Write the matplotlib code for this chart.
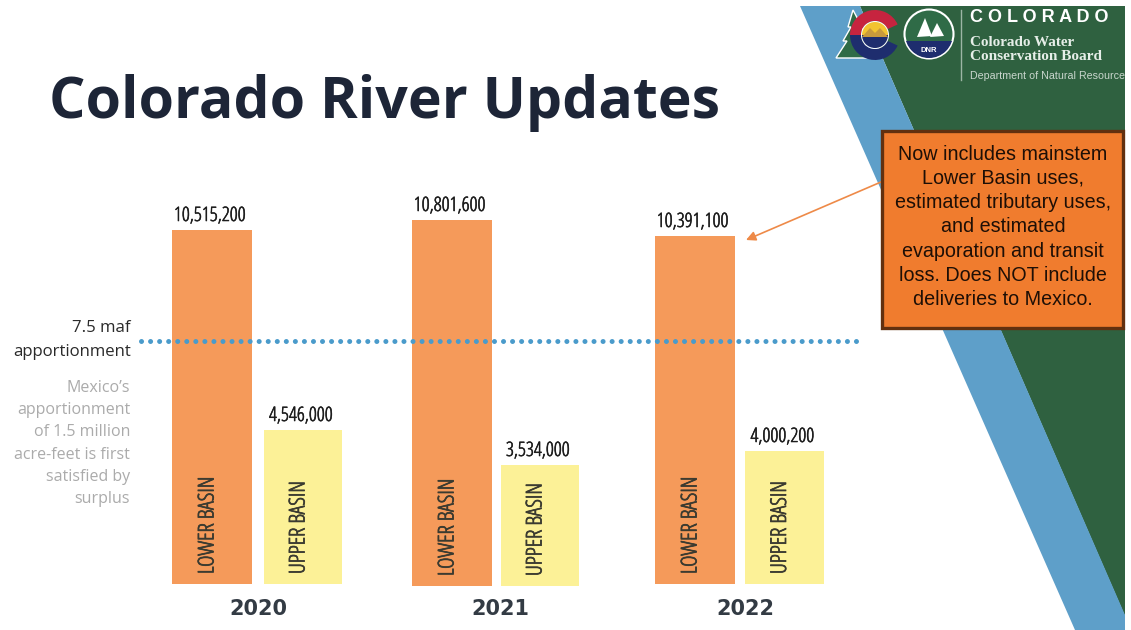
import matplotlib
matplotlib.use("Agg")
import matplotlib.pyplot as plt
import matplotlib.patheffects as pe
from matplotlib.patches import Polygon, Rectangle, Circle, Wedge

W, H = 1131, 630

# ---- data ----
years = ["2020", "2021", "2022"]
lower_basin = [10515200, 10801600, 10391100]
upper_basin = [4546000, 3534000, 4000200]
title = "Colorado River Updates"
apportion_lines = ["7.5 maf", "apportionment"]
mexico_lines = ["Mexico\u2019s", "apportionment", "of 1.5 million", "acre-feet is first", "satisfied by", "surplus"]
note = ("Now includes mainstem\nLower Basin uses,\nestimated tributary uses,\nand estimated\n"
        "evaporation and transit\nloss. Does NOT include\ndeliveries to Mexico.")

# ---- layout (pixels) ----
lower_x = [(172, 252), (412, 492), (655, 735)]
upper_x = [(264, 342), (501, 579), (745, 824)]
base_px = [584, 586, 584]
lower_top_px = [230, 220, 236]
upper_top_px = [430, 465, 451]
year_x = [258, 500, 745]
PX_PER_AF = 354 / 10515200

SANS = ["Liberation Sans", "DejaVu Sans"]
TITLE = ["Open Sans", "Noto Sans", "DejaVu Sans"]
COND = dict(family=["Open Sans"], fontstretch="condensed")


def heavy(color, width=0.55):
    return [pe.withStroke(linewidth=width, foreground=color)]


fig = plt.figure(figsize=(W / 100, H / 100), dpi=100, facecolor="white")
bg = fig.add_axes([0, 0, 1, 1])
bg.set_xlim(0, W); bg.set_ylim(H, 0); bg.axis("off"); bg.set_zorder(0)

# ---- background bands ----
bg.add_patch(Polygon([(860, 6), (1125, 6), (1125, 630), (1131, 630)], closed=True, fc="#2F6140", ec="none", zorder=1))
bg.add_patch(Polygon([(800, 6), (860, 6), (1125, 615), (1125, 630), (1075, 630)], closed=True, fc="#5E9FC9", ec="none", zorder=2))

# ---- logo (the y axis is inverted, so wedge angles run clockwise on screen) ----
bg.add_patch(Polygon([(836, 58), (847, 41), (843, 41), (851, 27), (848, 27), (853, 10), (862, 27), (866, 50),
                      (872, 58)], closed=True, fc="#2F6B47", ec="white", lw=1, zorder=5))
cx, cy = 875, 35
bg.add_patch(Wedge((cx, cy), 25, 180, 335, width=11, fc="#C7243F", ec="none", zorder=6))
bg.add_patch(Wedge((cx, cy), 25, 25, 180, width=11, fc="#1E2D6E", ec="none", zorder=6))
bg.add_patch(Circle((cx, cy), 14, fc="white", ec="none", zorder=6))
bg.add_patch(Wedge((cx, cy), 13, 0, 180, fc="#1E2D6E", ec="none", zorder=7))
bg.add_patch(Wedge((cx, cy), 13, 180, 360, fc="#F2C431", ec="none", zorder=7))
bg.add_patch(Polygon([(862, 37), (870, 28), (875, 33), (880, 28), (888, 37)], closed=True, fc="#C89A3C", ec="none", zorder=8))
bg.add_patch(Circle((929, 34), 24.5, fc="#2F6B47", ec="white", lw=1.5, zorder=5))
navy = Circle((929, 34), 24, fc="#1E2D6E", ec="none", zorder=6)
bg.add_patch(navy)
navy.set_clip_path(Rectangle((900, 41), 60, 20, transform=bg.transData))
bg.add_patch(Polygon([(917, 37), (925, 18), (932, 36)], closed=True, fc="white", ec="none", zorder=7))
bg.add_patch(Polygon([(930, 37), (937, 23), (944, 36)], closed=True, fc="white", ec="none", zorder=7))
bg.text(929, 50, "DNR", color="white", fontsize=5.5, fontweight="bold", family=SANS, ha="center", va="center", zorder=8)
bg.plot([961, 961], [10, 80], color="#9DB5A5", lw=1, zorder=5)
bg.text(970, 18, "C O L O R A D O", color="white", fontsize=13, fontweight="bold", family=SANS, va="center", ha="left", zorder=6)
bg.text(970, 42, "Colorado Water", color="#E6EEE8", fontsize=10.9, fontweight="bold", family=["Liberation Serif"], va="center", zorder=6)
bg.text(970, 56, "Conservation Board", color="#E6EEE8", fontsize=11, fontweight="bold", family=["Liberation Serif"], va="center", zorder=6)
bg.text(970, 76, "Department of Natural Resources", color="#C9D6CD", fontsize=7.7, family=SANS, va="center", zorder=6)
bg.add_patch(Rectangle((1125, 0), 6, H, fc="white", ec="none", zorder=9))

# ---- title ----
bg.text(49, 103, title, color="#1D2537", fontsize=41.2, fontweight="bold", family=TITLE, va="center", ha="left", zorder=5)

# ---- bars drawn through a value axis (y in acre-feet) ----
ax = fig.add_axes([0, 0, 1, 1], facecolor="none")
ax.set_xlim(0, W)
ax.set_ylim(-(H - 584) / PX_PER_AF, 584 / PX_PER_AF)
ax.axis("off"); ax.set_zorder(1)
for i in range(3):
    off = (584 - base_px[i]) / PX_PER_AF
    l0, l1 = lower_x[i]
    u0, u1 = upper_x[i]
    ax.bar((l0 + l1) / 2, (base_px[i] - lower_top_px[i]) / PX_PER_AF, width=l1 - l0, bottom=off, color="#F59A5A", zorder=3)
    ax.bar((u0 + u1) / 2, (base_px[i] - upper_top_px[i]) / PX_PER_AF, width=u1 - u0, bottom=off, color="#FCF197", zorder=3)

top = fig.add_axes([0, 0, 1, 1], facecolor="none")
top.set_xlim(0, W); top.set_ylim(H, 0); top.axis("off"); top.set_zorder(2)
for i in range(3):
    l0, l1 = lower_x[i]
    u0, u1 = upper_x[i]
    top.text((l0 + l1) / 2 - 2, lower_top_px[i] - 14, f"{lower_basin[i]:,}", fontsize=14.3, color="#1C1C1C", ha="center", va="center",
             path_effects=heavy("#1C1C1C", 0.4), **COND)
    top.text((u0 + u1) / 2 - 2, upper_top_px[i] - 14, f"{upper_basin[i]:,}", fontsize=14.3, color="#1C1C1C", ha="center", va="center",
             path_effects=heavy("#1C1C1C", 0.4), **COND)
    top.text((l0 + l1) / 2 - 4, base_px[i] - 10, "LOWER BASIN", rotation=90, fontsize=15.7, color="#3A3A30", ha="center", va="bottom",
             path_effects=heavy("#3A3A30"), **COND)
    top.text((u0 + u1) / 2 - 4, base_px[i] - 10, "UPPER BASIN", rotation=90, fontsize=15.7, color="#3A3A30", ha="center", va="bottom",
             path_effects=heavy("#3A3A30"), **COND)
    top.text(year_x[i], 609, years[i], fontsize=15, fontweight="bold", family=["DejaVu Sans"], color="#333B44", ha="center", va="center")

# ---- reference line ----
top.plot([141, 856], [341, 341], color="#4A9BCB", lw=3.6, linestyle=(0, (0.01, 1.8)), dash_capstyle="round", zorder=4)
for k, line in enumerate(apportion_lines):
    top.text(131, 328 + k * 24, line, fontsize=12.1, color="#2A2A2A", family=["Open Sans"], ha="right", va="center")
for k, line in enumerate(mexico_lines):
    top.text(130, 388 + k * 22.2, line, fontsize=11.5, color="#ABABAB", family=["Open Sans"], ha="right", va="center")

# ---- note ----
top.add_patch(Rectangle((882, 131), 241, 197, fc="#F07C2E", ec="#62300F", lw=2.4, zorder=6))
top.text(1003, 227, note, fontsize=14.2, family=SANS, color="#1E0F06", ha="center", va="center", linespacing=1.35, zorder=7)
top.annotate("", xy=(746, 240), xytext=(881, 182),
             arrowprops=dict(arrowstyle="-|>", color="#EE8A48", lw=1.2, mutation_scale=14, shrinkA=0, shrinkB=0), zorder=5)

fig.savefig("out.png", dpi=100)
